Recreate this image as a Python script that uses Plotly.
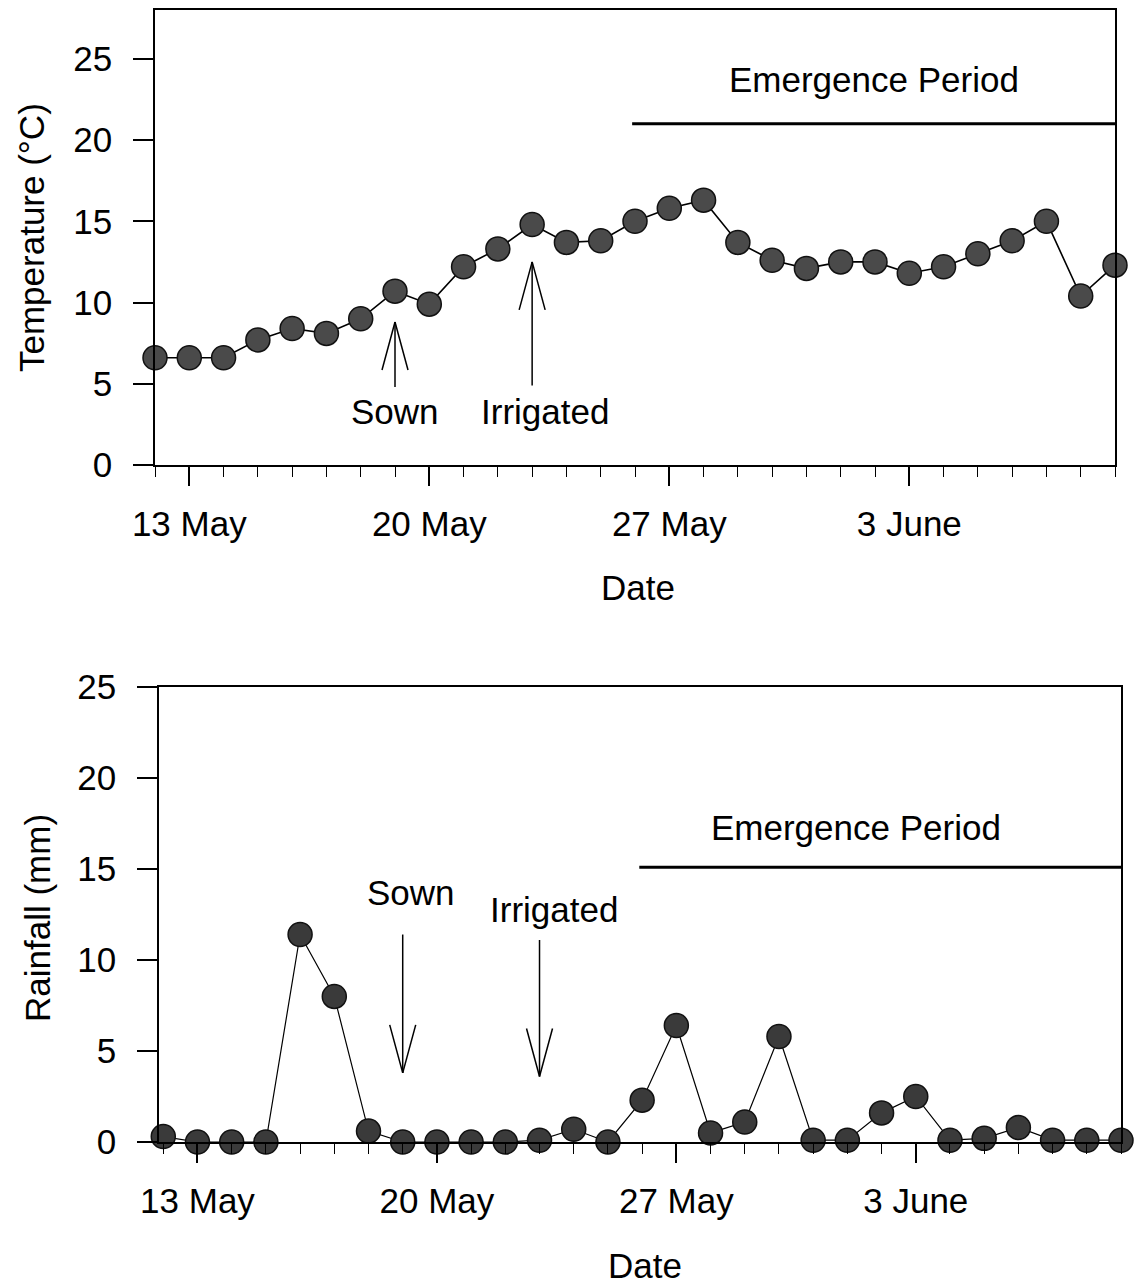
import plotly.graph_objects as go

# ---------------- data ----------------
dates = ["2000-05-12", "2000-05-13", "2000-05-14", "2000-05-15", "2000-05-16",
         "2000-05-17", "2000-05-18", "2000-05-19", "2000-05-20", "2000-05-21",
         "2000-05-22", "2000-05-23", "2000-05-24", "2000-05-25", "2000-05-26",
         "2000-05-27", "2000-05-28", "2000-05-29", "2000-05-30", "2000-05-31",
         "2000-06-01", "2000-06-02", "2000-06-03", "2000-06-04", "2000-06-05",
         "2000-06-06", "2000-06-07", "2000-06-08", "2000-06-09"]

temperature = [6.6, 6.6, 6.6, 7.7, 8.4, 8.1, 9.0, 10.7, 9.9, 12.2,
               13.3, 14.8, 13.7, 13.8, 15.0, 15.8, 16.3, 13.7, 12.6, 12.1,
               12.5, 12.5, 11.8, 12.2, 13.0, 13.8, 15.0, 10.4, 12.3]

rainfall = [0.3, 0.0, 0.0, 0.0, 11.4, 8.0, 0.6, 0.0, 0.0, 0.0,
            0.0, 0.1, 0.7, 0.0, 2.3, 6.4, 0.5, 1.1, 5.8, 0.1,
            0.1, 1.6, 2.5, 0.1, 0.2, 0.8, 0.1, 0.1, 0.1]

sown_date = "2000-05-19"
irrigated_date = "2000-05-23"
emergence_start = "2000-05-25 22:00"
emergence_end = "2000-06-09"

# arrows: (tail, tip) values
top_sown_arrow = (4.8, 8.8)
top_irr_arrow = (4.9, 12.5)
bot_sown_arrow = (11.4, 3.8)
bot_irr_arrow = (11.1, 3.6)

top_emergence_level = 21.0
bot_emergence_level = 15.1

FONT = "Liberation Sans, Arial, sans-serif"
FS = 35
W, H = 1143, 1284

fig = go.Figure()

fig.add_trace(go.Scatter(
    x=dates, y=temperature, mode="lines+markers", xaxis="x", yaxis="y",
    line=dict(color="black", width=1.6),
    marker=dict(size=24, color="#4a4a4a", line=dict(color="#111111", width=1.5)),
    cliponaxis=False, showlegend=False))

fig.add_trace(go.Scatter(
    x=dates, y=rainfall, mode="lines+markers", xaxis="x2", yaxis="y2",
    line=dict(color="black", width=1.2),
    marker=dict(size=24, color="#3a3a3a", line=dict(color="#111111", width=1.5)),
    cliponaxis=False, showlegend=False))

DAY = 86400000

def xaxis_cfg(dom, rng, anchor):
    return dict(
        domain=dom, range=rng, type="date", anchor=anchor, automargin=False,
        tick0="2000-05-13", dtick=7 * DAY, tickformat="%-d %B",
        ticks="outside", ticklen=19, tickwidth=1.5, tickcolor="black",
        minor=dict(dtick=DAY, tick0="2000-05-12", ticks="outside", ticklen=10,
                   tickwidth=1.2, tickcolor="black", showgrid=False),
        showline=True, linecolor="black", linewidth=1.5, mirror=True,
        showgrid=False, zeroline=False,
        tickfont=dict(family=FONT, size=FS, color="black"),
        ticklabelstandoff=8,
    )

def yaxis_cfg(dom, rng, anchor):
    return dict(
        domain=dom, range=rng, anchor=anchor, automargin=False,
        tickvals=[0, 5, 10, 15, 20, 25],
        ticks="outside", ticklen=20, tickwidth=1.5, tickcolor="black",
        showline=True, linecolor="black", linewidth=1.5, mirror=True,
        showgrid=False, zeroline=False,
        tickfont=dict(family=FONT, size=FS, color="black"),
        ticklabelstandoff=14,
    )

fig.update_layout(
    template="none",
    width=W, height=H, autosize=False,
    margin=dict(l=0, r=0, t=0, b=0, pad=0),
    paper_bgcolor="white", plot_bgcolor="white",
    xaxis=xaxis_cfg([155 / W, 1115 / W], ["2000-05-12", "2000-06-09"], "y"),
    yaxis=yaxis_cfg([1 - 465 / H, 1 - 10 / H], [0, 28], "x"),
    xaxis2=xaxis_cfg([159 / W, 1121 / W], ["2000-05-11 21:00", "2000-06-09"], "y2"),
    yaxis2=yaxis_cfg([1 - 1142 / H, 1 - 687 / H], [0, 25], "x2"),
)

shapes = []
# emergence lines
shapes.append(dict(type="line", xref="x", yref="y", x0=emergence_start, x1=emergence_end,
                   y0=top_emergence_level, y1=top_emergence_level,
                   line=dict(color="black", width=3)))
shapes.append(dict(type="line", xref="x2", yref="y2", x0=emergence_start, x1=emergence_end,
                   y0=bot_emergence_level, y1=bot_emergence_level,
                   line=dict(color="black", width=3)))

def arrow(xr, yr, xd, tail, tip, up):
    out = [dict(type="line", xref=xr, yref=yr, x0=xd, x1=xd, y0=tail, y1=tip,
                line=dict(color="black", width=1.5))]
    dy = -48 if up else 48
    for dx in (-13, 13):
        out.append(dict(type="line", xref=xr, yref=yr,
                        xsizemode="pixel", xanchor=xd, x0=0, x1=dx,
                        ysizemode="pixel", yanchor=tip, y0=0, y1=dy,
                        line=dict(color="black", width=1.5)))
    return out

shapes += arrow("x", "y", sown_date, *top_sown_arrow, up=True)
shapes += arrow("x", "y", irrigated_date, *top_irr_arrow, up=True)
shapes += arrow("x2", "y2", sown_date, *bot_sown_arrow, up=False)
shapes += arrow("x2", "y2", irrigated_date, *bot_irr_arrow, up=False)
fig.update_layout(shapes=shapes)

tf = dict(family=FONT, size=FS, color="black")
ann = [
    dict(xref="x", yref="y", x="2000-06-01 23:00", y=23.7, text="Emergence Period"),
    dict(xref="x", yref="y", x="2000-05-19", y=3.3, text="Sown"),
    dict(xref="x", yref="y", x="2000-05-23 09:00", y=3.3, text="Irrigated"),
    dict(xref="x2", yref="y2", x="2000-06-01 06:00", y=17.3, text="Emergence Period"),
    dict(xref="x2", yref="y2", x="2000-05-19 06:00", y=13.7, text="Sown"),
    dict(xref="x2", yref="y2", x="2000-05-23 10:00", y=12.8, text="Irrigated"),
    dict(xref="paper", yref="paper", x=638 / W, y=1 - 588 / H, text="Date"),
    dict(xref="paper", yref="paper", x=645 / W, y=1 - 1265 / H, text="Date"),
    dict(xref="paper", yref="paper", x=32 / W, y=1 - 238 / H, text="Temperature (°C)", textangle=-90),
    dict(xref="paper", yref="paper", x=37 / W, y=1 - 918 / H, text="Rainfall (mm)", textangle=-90),
]
for a in ann:
    a.update(showarrow=False, font=tf, xanchor="center", yanchor="middle")
fig.update_layout(annotations=ann)

fig.write_html("out.html")
